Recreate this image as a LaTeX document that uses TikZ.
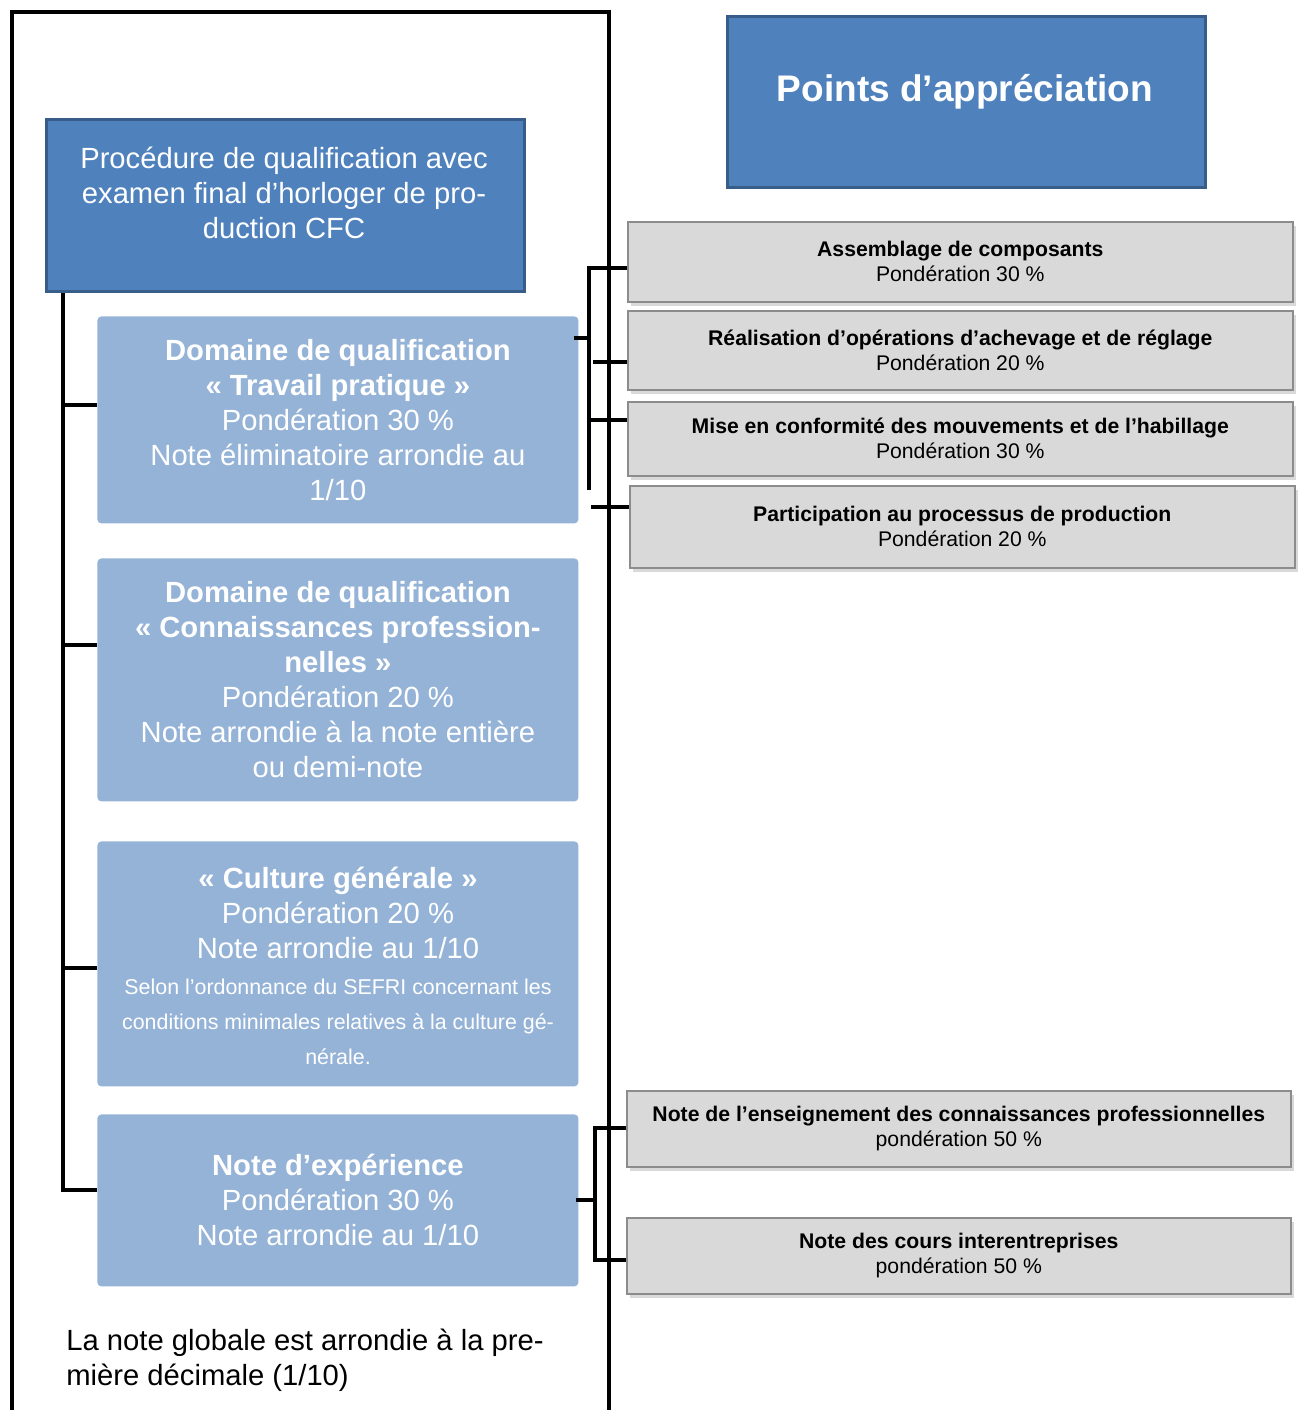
\documentclass[tikz,border=0pt]{standalone}
\usepackage{fontspec}
\setmainfont{Liberation Sans}
\usetikzlibrary{shadows}
\definecolor{dblue}{HTML}{4F81BD}
\definecolor{dblueb}{HTML}{385D8A}
\definecolor{lblue}{HTML}{95B3D7}
\definecolor{gfill}{HTML}{D9D9D9}
\definecolor{gborder}{HTML}{8C8C8C}
\begin{document}
\begin{tikzpicture}[x=0.5pt,y=-0.5pt,
 frame/.style={line width=2pt},
 conn/.style={line width=2.4pt,line join=miter},
 dbox/.style={fill=dblue,draw=dblueb,line width=1.6pt,inner sep=0pt,anchor=north west},
 lbox/.style={fill=lblue,rounded corners=2pt,inner sep=0pt,anchor=north west,text=white,align=center,font=\fontsize{14.6}{17.5}\selectfont},
 gbox/.style={fill=gfill,draw=gborder,line width=0.8pt,inner sep=0pt,anchor=north west,align=center,font=\fontsize{10.6}{12.5}\selectfont,drop shadow={shadow xshift=1.5pt,shadow yshift=-2pt,opacity=0.3}},
 wtxt/.style={text=white,align=center,inner sep=0pt},
]
\useasboundingbox (0,0) rectangle (1301,1410);
% outer frame
\draw[frame] (12,1414) -- (12,12) -- (609,12) -- (609,1414);
% top boxes
\node[dbox,minimum width=239pt,minimum height=86pt] (top) at (45,118) {};
\node[wtxt,font=\fontsize{14.6}{17.5}\selectfont] (toptxt) at (284,193) {Procédure de qualification avec\\examen final d’horloger de pro-\\duction CFC};
\node[dbox,minimum width=239pt,minimum height=85.5pt] (pts) at (726,15) {};
\node[wtxt,font=\fontsize{18.5}{22}\selectfont\bfseries] (ptstxt) at (965,92) {Points d’appréciation};
% light blue boxes
\node[lbox,minimum width=240.5pt,minimum height=103.5pt] (b1) at (97,316) {\textbf{Domaine de qualification}\\\textbf{« Travail pratique »}\\Pondération 30 \%\\Note éliminatoire arrondie au\\1/10};
\node[lbox,minimum width=240.5pt,minimum height=121.5pt] (b2) at (97,558) {\textbf{Domaine de qualification}\\\textbf{« Connaissances profession-}\\\textbf{nelles »}\\Pondération 20 \%\\Note arrondie à la note entière\\ou demi-note};
\node[lbox,minimum width=240.5pt,minimum height=122.5pt] (b3) at (97,841) {};
\node[wtxt,font=\fontsize{14.6}{17.5}\selectfont] (b3a) at (338,913) {\textbf{« Culture générale »}\\Pondération 20 \%\\Note arrondie au 1/10};
\node[wtxt,font=\fontsize{10.7}{17.5}\selectfont] (b3b) at (338,1022) {Selon l’ordonnance du SEFRI concernant les\\conditions minimales relatives à la culture gé-\\nérale.};
\node[lbox,minimum width=240.5pt,minimum height=86pt] (b4) at (97,1114) {\textbf{Note d’expérience}\\Pondération 30 \%\\Note arrondie au 1/10};
% grey boxes
\node[gbox,minimum width=332.5pt,minimum height=40pt] (g1) at (627,221) {\textbf{Assemblage de composants}\\Pondération 30 \%};
\node[gbox,minimum width=332.5pt,minimum height=39.5pt] (g2) at (627,310) {\textbf{Réalisation d’opérations d’achevage et de réglage}\\Pondération 20 \%};
\node[gbox,minimum width=332.5pt,minimum height=37pt] (g3) at (627,401) {\textbf{Mise en conformité des mouvements et de l’habillage}\\Pondération 30 \%};
\node[gbox,minimum width=332.5pt,minimum height=41pt] (g4) at (629,485) {\textbf{Participation au processus de production}\\Pondération 20 \%};
\node[gbox,minimum width=332pt,minimum height=38pt] (g5) at (626,1090) {\textbf{Note de l’enseignement des connaissances professionnelles}\\pondération 50 \%};
\node[gbox,minimum width=332pt,minimum height=38pt] (g6) at (626,1217) {\textbf{Note des cours interentreprises}\\pondération 50 \%};
% bottom note
\node[anchor=west,align=left,inner sep=0pt,font=\fontsize{14.6}{17.5}\selectfont] (note) at (66,1360) {La note globale est arrondie à la pre-\\mière décimale (1/10)};
% left trunk
\coordinate (tkTop) at (63,290);
\coordinate (tkBot) at (63,1190);
\draw[conn] (top.south -| tkTop) -- (tkBot) -- (b4.west |- tkBot);
\coordinate (k1) at (63,405);
\coordinate (k2) at (63,645);
\coordinate (k3) at (63,968);
\draw[conn] (k1) -- (b1.west |- k1);
\draw[conn] (k2) -- (b2.west |- k2);
\draw[conn] (k3) -- (b3.west |- k3);
% top right bracket
\coordinate (ra) at (589,268);
\coordinate (rb) at (589,490);
\coordinate (rc) at (589,420);
\coordinate (rd) at (589,338);
\coordinate (re) at (593,362);
\coordinate (rf) at (591,507);
\draw[conn] (rb) -- (ra) -- (g1.west |- ra);
\draw[conn] (rc) -- (g3.west |- rc);
\draw[conn] ([xshift=-2.5pt]b1.east |- rd) -- (rd);
\draw[conn] (re) -- (g2.west |- re);
\draw[conn] (rf) -- (g4.west |- rf);
% bottom right bracket
\coordinate (sa) at (595,1128);
\coordinate (sb) at (595,1260);
\coordinate (sc) at (595,1200);
\draw[conn] (g5.west |- sa) -- (sa) -- (sb) -- (g6.west |- sb);
\draw[conn] ([xshift=-1.5pt]b4.east |- sc) -- (sc);
\end{tikzpicture}
\end{document}
